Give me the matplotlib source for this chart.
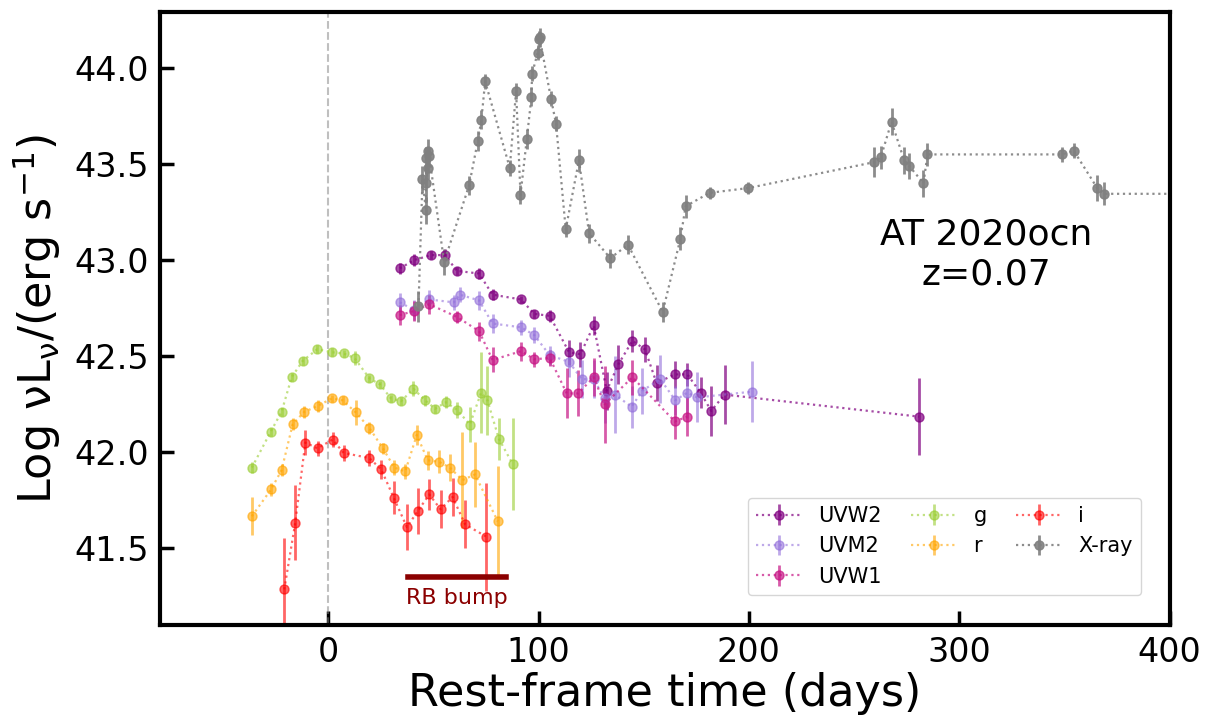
import matplotlib
matplotlib.use("Agg")
import matplotlib.pyplot as plt

# rest-frame days, log nuLnu, error
t_uvw2 = [34.0, 40.9, 48.8, 55.6, 61.1, 71.7, 78.1, 91.7, 97.9, 105.3, 114.5, 119.9, 126.2, 132.4,
          137.9, 144.6, 150.6, 156.1, 164.8, 170.7, 177.0, 182.1, 188.4, 280.9]
v_uvw2 = [42.957, 43.00, 43.026, 43.026, 42.944, 42.93, 42.82, 42.795, 42.72, 42.71, 42.52, 42.51, 42.66, 42.32,
          42.457, 42.58, 42.535, 42.36, 42.405, 42.405, 42.31, 42.215, 42.30, 42.185]
e_uvw2 = [0.03, 0.03, 0.02, 0.03, 0.02, 0.03, 0.03, 0.02, 0.02, 0.03, 0.065, 0.065, 0.05, 0.1,
          0.1, 0.058, 0.063, 0.095, 0.07, 0.06, 0.08, 0.13, 0.155, 0.2]

t_uvm2 = [34.0, 40.9, 48.0, 59.7, 62.6, 71.7, 78.1, 91.7, 97.9, 105.3, 114.5, 120.5, 126.2, 131.4,
          136.3, 144.2, 149.3, 157.9, 165.0, 170.7, 175.3, 201.4]
v_uvm2 = [42.78, 42.74, 42.795, 42.78, 42.82, 42.79, 42.67, 42.65, 42.61, 42.505, 42.47, 42.38, 42.38, 42.28,
          42.30, 42.236, 42.32, 42.38, 42.27, 42.31, 42.285, 42.315]
e_uvm2 = [0.05, 0.05, 0.05, 0.04, 0.04, 0.05, 0.05, 0.04, 0.04, 0.05, 0.08, 0.1, 0.1, 0.13,
          0.2, 0.11, 0.12, 0.125, 0.075, 0.13, 0.13, 0.16]

t_uvw1 = [34.0, 40.9, 48.0, 61.1, 71.7, 78.1, 91.7, 97.9, 105.3, 113.4, 118.8, 126.2, 131.4, 144.6, 164.8, 170.7]
v_uvw1 = [42.714, 42.735, 42.77, 42.705, 42.63, 42.48, 42.526, 42.484, 42.49, 42.306, 42.306, 42.39, 42.25,
          42.39, 42.16, 42.185]
e_uvw1 = [0.05, 0.05, 0.05, 0.03, 0.05, 0.065, 0.05, 0.04, 0.04, 0.13, 0.12, 0.1, 0.2, 0.09, 0.09, 0.1]

t_g = [-36.3, -27.4, -22.2, -17.4, -12.2, -5.2, 1.9, 7.3, 12.5, 19.6, 24.6, 29.8, 34.7, 40.5, 46.1, 50.8,
       55.9, 61.3, 67.3, 72.7, 75.7, 81.1, 87.6]
v_g = [41.92, 42.106, 42.21, 42.39, 42.475, 42.536, 42.52, 42.514, 42.49, 42.384, 42.353, 42.28, 42.266, 42.33,
       42.27, 42.226, 42.26, 42.22, 42.144, 42.31, 42.27, 42.07, 41.94]
e_g = [0.03, 0.02, 0.02, 0.02, 0.02, 0.02, 0.02, 0.02, 0.035, 0.02, 0.02, 0.02, 0.02, 0.04, 0.03, 0.02,
       0.03, 0.04, 0.09, 0.21, 0.18, 0.11, 0.24]

t_r = [-36.3, -27.2, -22.2, -16.9, -11.4, -5.1, 1.7, 6.8, 13.1, 19.5, 26.0, 31.4, 36.6, 42.1, 47.3, 52.7,
       57.8, 63.8, 69.8, 80.6]
v_r = [41.667, 41.806, 41.906, 42.146, 42.21, 42.24, 42.28, 42.27, 42.207, 42.127, 42.02, 41.92, 41.90, 42.09,
       41.958, 41.95, 41.92, 41.855, 41.884, 41.64]
e_r = [0.1, 0.035, 0.03, 0.03, 0.03, 0.03, 0.02, 0.02, 0.065, 0.03, 0.03, 0.04, 0.04, 0.05, 0.05, 0.06,
       0.07, 0.25, 0.17, 0.29]

t_i = [-20.9, -15.7, -10.9, -5.1, 2.1, 7.3, 19.5, 25.2, 31.1, 37.4, 42.6, 48.0, 53.4, 59.1, 65.1, 75.2]
v_i = [41.286, 41.632, 42.05, 42.02, 42.066, 41.996, 41.97, 41.91, 41.764, 41.61, 41.694, 41.78, 41.703,
       41.767, 41.624, 41.56]
e_i = [0.27, 0.195, 0.065, 0.04, 0.04, 0.04, 0.04, 0.05, 0.087, 0.12, 0.12, 0.08, 0.1, 0.1, 0.125, 0.28]

t_x = [42.9, 44.8, 46.4, 46.4, 46.7, 47.2, 47.2, 48.0, 55.1, 67.0, 71.1, 72.8, 74.6, 86.3, 89.3, 91.4,
       94.4, 96.6, 96.9, 99.6, 100.2, 100.5, 105.9, 108.3, 112.9, 119.2, 124.0, 134.1, 142.5, 159.0,
       167.4, 169.9, 181.3, 199.7, 259.7, 262.7, 267.8, 273.8, 276.2, 283.0, 284.9, 349.0, 354.4,
       365.6, 368.8, 420.0]
v_x = [42.76, 43.42, 43.26, 43.53, 43.40, 43.48, 43.57, 43.54, 42.99, 43.39, 43.62, 43.73, 43.93, 43.48,
       43.88, 43.34, 43.63, 43.85, 43.97, 44.08, 44.15, 44.16, 43.84, 43.71, 43.16, 43.52, 43.14, 43.01,
       43.08, 42.73, 43.11, 43.28, 43.35, 43.375, 43.51, 43.535, 43.72, 43.52, 43.49, 43.40, 43.55,
       43.55, 43.57, 43.375, 43.345, 43.345]
e_x = [0.08, 0.07, 0.07, 0.06, 0.1, 0.06, 0.06, 0.05, 0.07, 0.05, 0.05, 0.05, 0.04, 0.04, 0.04, 0.05,
       0.05, 0.05, 0.04, 0.04, 0.04, 0.05, 0.04, 0.04, 0.04, 0.06, 0.05, 0.05, 0.05, 0.05,
       0.06, 0.06, 0.03, 0.03, 0.08, 0.06, 0.07, 0.07, 0.07, 0.07, 0.06, 0.04, 0.04,
       0.07, 0.06, 0.05]

rb_bump = [38.0, 84.5]

fig, ax = plt.subplots(figsize=(12.12, 7.21), dpi=100)
fig.subplots_adjust(left=0.132, right=0.965, top=0.983, bottom=0.133)

bands = [
    (t_uvw2, v_uvw2, e_uvw2, "purple", 0.7, "UVW2"),
    (t_uvm2, v_uvm2, e_uvm2, "mediumpurple", 0.6, "UVM2"),
    (t_uvw1, v_uvw1, e_uvw1, "mediumvioletred", 0.7, "UVW1"),
    (t_g, v_g, e_g, "yellowgreen", 0.6, "g"),
    (t_r, v_r, e_r, "orange", 0.6, "r"),
    (t_i, v_i, e_i, "red", 0.6, "i"),
    (t_x, v_x, e_x, "gray", 0.9, "X-ray"),
]
for t, v, e, color, alpha, label in bands:
    ax.errorbar(t, v, yerr=e, fmt="o", ls=":", lw=1.6, ms=6.5, elinewidth=2, color=color, alpha=alpha,
                label=label)

ax.axvline(0, color="gray", ls="--", lw=1.5, alpha=0.5)
ax.plot(rb_bump, [41.35, 41.35], color="darkred", lw=4)
ax.text(sum(rb_bump) / 2, 41.295, "RB bump", color="darkred", fontsize=16, ha="center", va="top")
ax.text(313, 43.03, "AT 2020ocn\nz=0.07", fontsize=26, ha="center", va="center")

ax.set_xlim(-80, 400)
ax.set_ylim(41.1, 44.29)
ax.set_xticks([0, 100, 200, 300, 400])
ax.set_yticks([41.5, 42.0, 42.5, 43.0, 43.5, 44.0])
ax.set_xlabel("Rest-frame time (days)", fontsize=32, labelpad=2)
ax.set_ylabel(r"Log $\mathrm{\nu L_{\nu}}$/(erg s$^{-1}$)", fontsize=32, labelpad=8)
ax.tick_params(direction="in", length=10, width=2.5, labelsize=24, pad=8)
for spine in ax.spines.values():
    spine.set_linewidth(3)

ax.legend(ncol=3, fontsize=15, loc="lower right", bbox_to_anchor=(0.972, 0.049), borderaxespad=0,
          columnspacing=1.4, handlelength=2.2)

fig.savefig("out.png", dpi=100)
